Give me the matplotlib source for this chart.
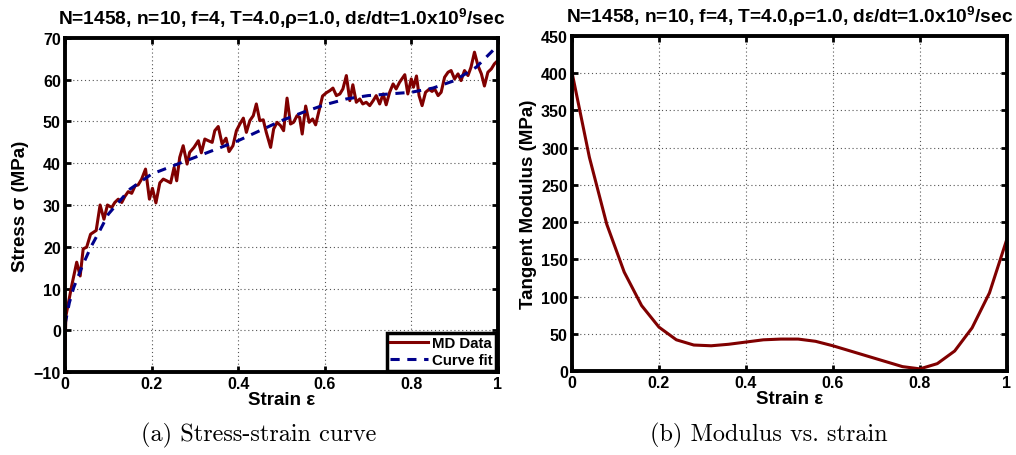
import matplotlib
matplotlib.use("Agg")
import matplotlib.pyplot as plt

plt.rcParams['font.family'] = ['Liberation Sans', 'DejaVu Sans']
plt.rcParams['font.weight'] = 'bold'
plt.rcParams['mathtext.fontset'] = 'custom'
plt.rcParams['mathtext.bf'] = 'Liberation Sans:bold'
plt.rcParams['mathtext.rm'] = 'Liberation Sans:bold'
plt.rcParams['mathtext.default'] = 'bf'
plt.rcParams['axes.unicode_minus'] = True

# ---- Data: stress-strain (MD data) ----
md_strain = [0.0, 0.002, 0.0155, 0.027, 0.035, 0.042, 0.050, 0.059, 0.072,
             0.081, 0.090, 0.098, 0.108, 0.115, 0.123, 0.131, 0.138, 0.146, 0.154,
             0.162, 0.169, 0.177, 0.186, 0.195, 0.202, 0.210, 0.219, 0.227, 0.235,
             0.244, 0.252, 0.258, 0.265, 0.273, 0.282, 0.288, 0.298, 0.308, 0.315,
             0.323, 0.331, 0.340, 0.346, 0.354, 0.363, 0.372, 0.379, 0.388, 0.396,
             0.404, 0.412, 0.419, 0.427, 0.435, 0.442, 0.450, 0.458, 0.465, 0.475,
             0.482, 0.490, 0.498, 0.505, 0.513, 0.521, 0.528, 0.536, 0.542, 0.548,
             0.556, 0.564, 0.572, 0.579, 0.587, 0.595, 0.604, 0.612, 0.619, 0.627,
             0.635, 0.642, 0.650, 0.658, 0.665, 0.673, 0.681, 0.688, 0.696, 0.704,
             0.712, 0.719, 0.727, 0.735, 0.742, 0.750, 0.758, 0.765, 0.773, 0.785,
             0.792, 0.800, 0.805, 0.812, 0.818, 0.825, 0.833, 0.841, 0.848, 0.854,
             0.862, 0.869, 0.877, 0.885, 0.892, 0.900, 0.908, 0.915, 0.923, 0.931,
             0.938, 0.946, 0.954, 0.962, 0.969, 0.977, 0.985, 0.992, 1.000]
md_stress = [-4.5, 3.4, 10.7, 16.3, 13.0, 19.5, 19.9, 23.0, 23.9,
             30.0, 26.6, 30.0, 29.4, 30.6, 31.4, 30.6, 32.0, 33.2, 32.8,
             34.6, 34.8, 36.2, 38.6, 31.4, 34.0, 30.5, 35.3, 36.2, 35.8,
             35.3, 39.0, 35.8, 41.4, 44.2, 39.8, 42.6, 43.8, 45.4, 42.5,
             45.8, 45.4, 45.0, 47.8, 48.8, 44.6, 46.0, 42.8, 44.2, 47.8,
             49.4, 50.8, 47.4, 50.2, 51.4, 54.2, 50.2, 50.4, 47.4, 43.8,
             48.2, 49.8, 49.0, 47.8, 55.6, 49.4, 49.8, 51.4, 51.0, 47.0,
             53.7, 49.8, 50.6, 49.2, 52.6, 56.1, 56.9, 57.4, 58.0, 56.2,
             56.6, 57.8, 61.0, 55.0, 58.8, 54.6, 55.4, 54.2, 54.6, 53.8,
             55.0, 56.2, 54.2, 56.6, 54.0, 57.0, 59.0, 57.8, 59.4, 61.2,
             56.6, 60.2, 58.2, 60.9, 56.2, 53.8, 57.0, 57.7, 57.2, 57.8,
             56.2, 57.0, 60.6, 61.8, 62.2, 60.2, 61.4, 59.8, 62.2, 61.0,
             63.0, 66.6, 63.4, 61.4, 58.5, 61.8, 62.6, 63.8, 64.6]

# ---- Data: curve fit ----
fit_strain = [0.0, 0.01, 0.02, 0.04, 0.06, 0.08, 0.10, 0.15, 0.20, 0.25, 0.30,
              0.35, 0.40, 0.45, 0.50, 0.55, 0.60, 0.65, 0.70, 0.75, 0.80, 0.85,
              0.90, 0.95, 1.00]
fit_stress = [1.4, 6.6, 10.2, 15.4, 20.0, 23.8, 27.8, 33.8, 37.4, 39.4, 41.4,
              43.4, 45.4, 47.8, 50.2, 52.2, 54.0, 55.4, 56.2, 56.6, 57.0, 58.0,
              59.8, 63.0, 68.2]

# ---- Data: tangent modulus ----
mod_strain = [0.00, 0.04, 0.08, 0.12, 0.16, 0.20, 0.24, 0.28, 0.32, 0.36, 0.40,
              0.44, 0.48, 0.52, 0.56, 0.60, 0.64, 0.68, 0.72, 0.76, 0.80, 0.84,
              0.88, 0.92, 0.96, 1.00]
mod_values = [401, 287, 197, 133, 88, 59, 42, 35, 34, 36, 39,
              42, 43, 43, 40, 34, 27, 20, 13, 6, 3, 10,
              27, 58, 105, 177]

title_text = r'N=1458, n=10, f=4, T=4.0,ρ=1.0, dε/dt=1.0x10$^{9}$/sec'
red = '#800000'
navy = '#00008B'

fig = plt.figure(figsize=(10.16, 4.56), dpi=100)
ax1 = fig.add_axes([0.064, 0.182, 0.426, 0.7325])
ax2 = fig.add_axes([0.563, 0.184, 0.428, 0.735])


def style(ax):
    for s in ax.spines.values():
        s.set_linewidth(2.8)
        s.set_color('black')
    ax.grid(True, linestyle=(0, (1, 2.5)), color='#555555', linewidth=0.8)
    ax.tick_params(direction='in', length=4, width=2, top=True, right=True,
                   labelsize=11.5, pad=3)
    for lab in ax.get_xticklabels() + ax.get_yticklabels():
        lab.set_fontweight('bold')
    ax.set_axisbelow(True)


ax1.plot(md_strain, md_stress, color=red, linewidth=2.2, label='MD Data')
ax1.plot(fit_strain, fit_stress, color=navy, linewidth=2.2, linestyle=(0, (3, 2.5)),
         label='Curve fit')
ax1.set_xlim(0, 1)
ax1.set_ylim(-10, 70)
ax1.set_xticks([0, 0.2, 0.4, 0.6, 0.8, 1])
ax1.set_xticklabels(['0', '0.2', '0.4', '0.6', '0.8', '1'])
ax1.set_yticks(range(-10, 71, 10))
ax1.set_yticklabels(['\u221210'] + [str(v) for v in range(0, 71, 10)])
style(ax1)
ax1.set_xlabel('Strain ε', fontsize=13.5, fontweight='bold', labelpad=0)
ax1.set_ylabel('Stress σ (MPa)', fontsize=13.5, fontweight='bold', labelpad=3)
ax1.set_title(title_text, fontsize=13.8, fontweight='bold', pad=10)
leg = ax1.legend(loc='lower right', fontsize=10.8, frameon=True, fancybox=False,
                 borderpad=0.22, handlelength=2.5, handletextpad=0.3,
                 labelspacing=0.22, borderaxespad=0.1)
leg.get_frame().set_edgecolor('black')
leg.get_frame().set_linewidth(2.5)
leg.get_frame().set_alpha(1)
for t in leg.get_texts():
    t.set_fontweight('bold')

ax2.plot(mod_strain, mod_values, color=red, linewidth=2.2)
ax2.set_xlim(0, 1)
ax2.set_ylim(0, 450)
ax2.set_xticks([0, 0.2, 0.4, 0.6, 0.8, 1])
ax2.set_xticklabels(['0', '0.2', '0.4', '0.6', '0.8', '1'])
ax2.set_yticks(range(0, 451, 50))
style(ax2)
ax2.set_xlabel('Strain ε', fontsize=13.5, fontweight='bold', labelpad=0)
ax2.set_ylabel('Tangent Modulus (MPa)', fontsize=13.5, fontweight='bold', labelpad=3)
ax2.set_title(title_text, fontsize=13.8, fontweight='bold', pad=10)

fig.text(0.255, 0.046, '(a) Stress-strain curve', fontsize=17.5, family='cmr10',
         fontweight='normal', ha='center', va='center')
fig.text(0.757, 0.046, '(b) Modulus vs. strain', fontsize=17.5, family='cmr10',
         fontweight='normal', ha='center', va='center')

fig.savefig('out.png', dpi=100)
